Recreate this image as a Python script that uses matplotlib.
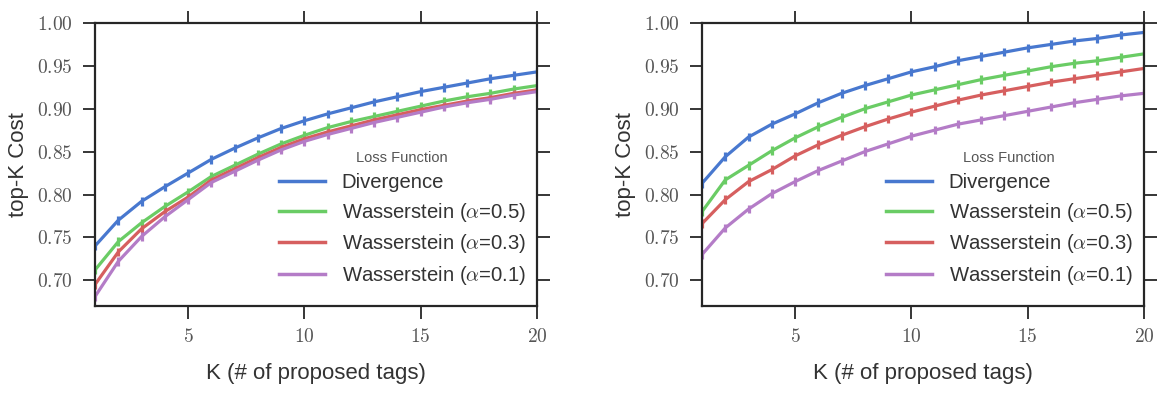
import matplotlib
matplotlib.use("Agg")
import matplotlib.pyplot as plt
from matplotlib.ticker import FuncFormatter, FixedLocator
from matplotlib.lines import Line2D

K = list(range(1, 21))

labels = ["Divergence", r"Wasserstein ($\alpha$=0.5)", r"Wasserstein ($\alpha$=0.3)", r"Wasserstein ($\alpha$=0.1)"]
colors = ["#4878CF", "#6ACC65", "#D65F5F", "#B47CC7"]

left_div = [0.740, 0.770, 0.792, 0.809, 0.825, 0.841, 0.854, 0.866, 0.877, 0.886,
            0.894, 0.901, 0.908, 0.914, 0.920, 0.925, 0.930, 0.935, 0.939, 0.943]
left_w05 = [0.712, 0.745, 0.767, 0.786, 0.803, 0.821, 0.834, 0.847, 0.859, 0.869,
            0.878, 0.885, 0.891, 0.897, 0.903, 0.909, 0.914, 0.918, 0.923, 0.927]
left_w03 = [0.695, 0.733, 0.760, 0.780, 0.797, 0.817, 0.830, 0.843, 0.855, 0.865,
            0.873, 0.880, 0.887, 0.893, 0.899, 0.904, 0.909, 0.913, 0.918, 0.922]
left_w01 = [0.681, 0.722, 0.751, 0.774, 0.794, 0.814, 0.827, 0.840, 0.852, 0.862,
            0.870, 0.877, 0.884, 0.890, 0.896, 0.902, 0.907, 0.911, 0.916, 0.920]

right_div = [0.813, 0.844, 0.867, 0.882, 0.894, 0.907, 0.918, 0.927, 0.935, 0.943,
             0.949, 0.956, 0.961, 0.966, 0.971, 0.975, 0.979, 0.982, 0.986, 0.989]
right_w05 = [0.780, 0.817, 0.834, 0.851, 0.866, 0.879, 0.890, 0.900, 0.908, 0.916,
             0.922, 0.928, 0.934, 0.939, 0.944, 0.949, 0.953, 0.956, 0.960, 0.964]
right_w03 = [0.766, 0.794, 0.815, 0.829, 0.845, 0.858, 0.869, 0.879, 0.888, 0.896,
             0.903, 0.910, 0.916, 0.921, 0.926, 0.931, 0.935, 0.939, 0.943, 0.947]
right_w01 = [0.730, 0.761, 0.783, 0.801, 0.815, 0.828, 0.839, 0.850, 0.859, 0.868,
             0.875, 0.882, 0.887, 0.892, 0.897, 0.902, 0.907, 0.911, 0.915, 0.918]

err = [0.005] * 20

xticks = [5, 10, 15, 20]
yticks = [0.70, 0.75, 0.80, 0.85, 0.90, 0.95, 1.00]

plt.rcParams['mathtext.fontset'] = 'cm'
plt.rcParams['font.family'] = ['Liberation Sans', 'DejaVu Sans']

fig = plt.figure(figsize=(11.59, 3.99), dpi=100)
ax1 = fig.add_axes([95/1159, 1-306/399, 442/1159, 283/399])
ax2 = fig.add_axes([702/1159, 1-306/399, 442/1159, 283/399])

for ax, series in [(ax1, [left_div, left_w05, left_w03, left_w01]),
                   (ax2, [right_div, right_w05, right_w03, right_w01])]:
    for s, c in zip(series, colors):
        ax.errorbar(K, s, yerr=err, color=c, lw=2.3, elinewidth=2.3, capsize=0)
    ax.set_xlim(1, 20)
    ax.set_ylim(0.67, 1.00)
    ax.xaxis.set_major_locator(FixedLocator(xticks))
    ax.yaxis.set_major_locator(FixedLocator(yticks))
    ax.xaxis.set_major_formatter(FuncFormatter(lambda v, p: r"$%d$" % v))
    ax.yaxis.set_major_formatter(FuncFormatter(lambda v, p: r"$%.2f$" % v))
    ax.tick_params(direction='out', length=9, width=1.3, colors='#262626',
                   labelsize=14, top=True, right=True, pad=7)
    ax.tick_params(axis='both', labelcolor='#555555')
    for sp in ax.spines.values():
        sp.set_linewidth(1.6)
        sp.set_color('#262626')
    ax.set_xlabel("K (# of proposed tags)", fontsize=16, color='#333333', labelpad=12)
    ax.set_ylabel("top-K Cost", fontsize=16, color='#333333', labelpad=6)
    handles = [Line2D([], [], color=c, lw=2.5) for c in colors]
    leg = ax.legend(handles, labels, loc='lower right', bbox_to_anchor=(1.0113, 0.0106),
                    frameon=False, title="Loss Function",
                    fontsize=14.6, title_fontsize=10.5, handlelength=2.3,
                    handletextpad=0.8, labelspacing=0.42, borderaxespad=0.4)
    for t in leg.get_texts():
        t.set_color('#333333')
    leg.get_title().set_color('#555555')

fig.savefig("out.png", dpi=100)
